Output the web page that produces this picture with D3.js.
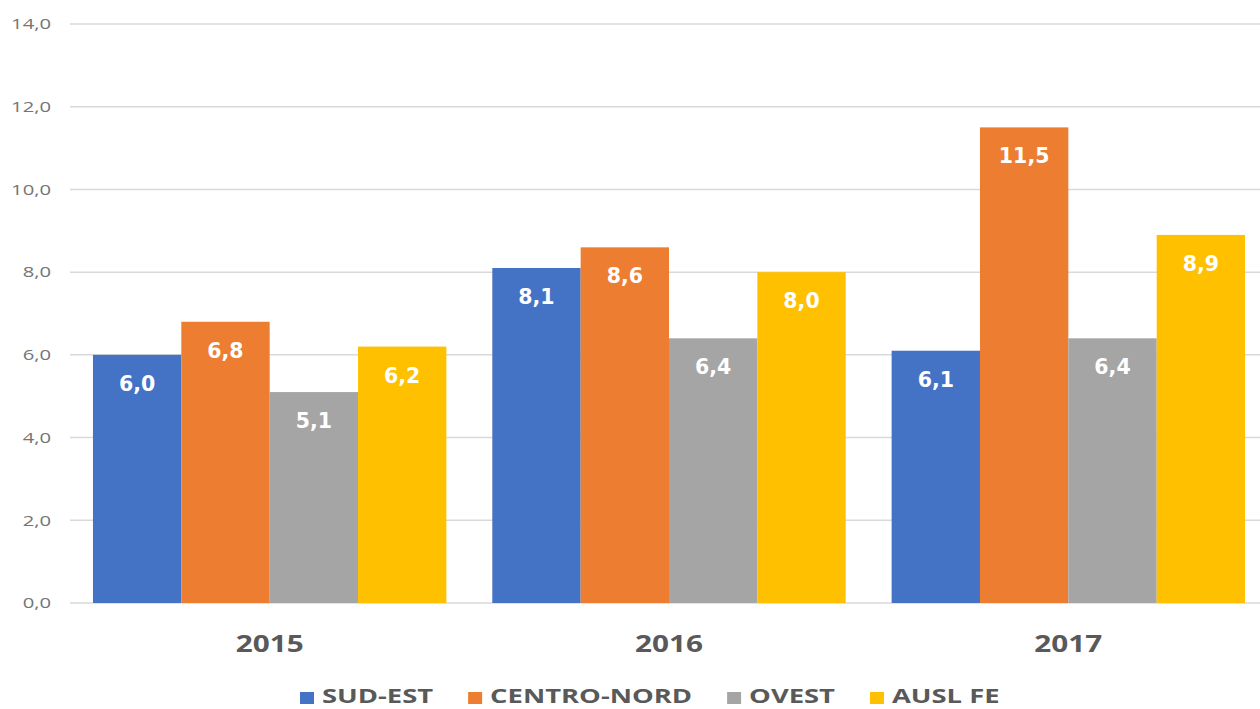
<!DOCTYPE html>
<html>
<head>
<meta charset="utf-8">
<script src="https://cdn.jsdelivr.net/npm/d3@7"></script>
<style>
  body { margin: 0; background: #fff; }
  svg { display: block; }
</style>
</head>
<body>
<div id="chart-area"></div>
<script>
var years = ["2015", "2016", "2017"];
var seriesNames = ["SUD-EST", "CENTRO-NORD", "OVEST", "AUSL FE"];
var sudEst = [6.0, 8.1, 6.1];
var centroNord = [6.8, 8.6, 11.5];
var ovest = [5.1, 6.4, 6.4];
var auslFe = [6.2, 8.0, 8.9];
var yTicks = [0, 2, 4, 6, 8, 10, 12, 14];
var colors = ["#4472C4", "#ED7D31", "#A5A5A5", "#FFC000"];

var seriesValues = [sudEst, centroNord, ovest, auslFe];
var W = 1260, H = 709;
var margin = { left: 70, right: -8, top: 24, bottom: 106 };
var width = W - margin.left - margin.right;
var height = H - margin.top - margin.bottom;
var fmt = v => v.toFixed(1).replace(".", ",");

var svg = d3.select("#chart-area").append("svg")
    .attr("width", W)
    .attr("height", H);

var g = svg.append("g")
    .attr("transform", `translate(${margin.left}, ${margin.top})`);

var x = d3.scaleBand()
    .domain(years)
    .range([0, width])
    .paddingInner(0.115)
    .paddingOuter(0.0575);

var xSub = d3.scaleBand()
    .domain(seriesNames)
    .range([0, x.bandwidth()]);

var y = d3.scaleLinear()
    .domain([0, 14])
    .range([height, 0]);

// gridlines
g.append("g")
    .selectAll("line")
    .data(yTicks)
    .join("line")
    .attr("x1", 0)
    .attr("x2", width + 20)
    .attr("y1", d => y(d))
    .attr("y2", d => y(d))
    .attr("stroke", "#D9D9D9")
    .attr("stroke-width", 1.5);

// y labels (source image is stretched horizontally, so text gets a scaleX)
g.append("g")
    .selectAll("g")
    .data(yTicks)
    .join("g")
    .attr("transform", d => `translate(-19, ${y(d)}) scale(1.35, 1)`)
    .append("text")
    .attr("dy", "0.35em")
    .attr("text-anchor", "end")
    .attr("font-family", "Open Sans, sans-serif")
    .attr("font-size", 15)
    .attr("fill", "#757575")
    .text(d => fmt(d));

var rows = [];
years.forEach((yr, i) => {
    seriesNames.forEach((s, j) => {
        rows.push({ year: yr, series: s, value: seriesValues[j][i], color: colors[j] });
    });
});

var bars = g.append("g").selectAll("g")
    .data(rows)
    .join("g")
    .attr("transform", d => `translate(${x(d.year) + xSub(d.series)}, 0)`);

bars.append("rect")
    .attr("x", 0)
    .attr("y", d => y(d.value))
    .attr("width", xSub.bandwidth())
    .attr("height", d => height - y(d.value))
    .attr("fill", d => d.color);

bars.append("text")
    .attr("x", xSub.bandwidth() / 2)
    .attr("y", d => y(d.value) + 36)
    .attr("text-anchor", "middle")
    .attr("font-family", "DejaVu Sans, sans-serif")
    .attr("font-weight", "bold")
    .attr("font-size", 20.5)
    .attr("fill", "#fff")
    .text(d => fmt(d.value));

// category labels
g.append("g")
    .selectAll("g")
    .data(years)
    .join("g")
    .attr("transform", d => `translate(${x(d) + x.bandwidth() / 2}, ${height + 49}) scale(1.24, 1)`)
    .append("text")
    .attr("text-anchor", "middle")
    .attr("font-family", "Open Sans, sans-serif")
    .attr("font-weight", "bold")
    .attr("font-size", 24)
    .attr("fill", "#595959")
    .text(d => d);

// legend
var legend = svg.append("g")
    .attr("transform", `translate(0, ${H - 6})`);

var lx = 300;
var sx = 1.37;
seriesNames.forEach((s, j) => {
    var item = legend.append("g").attr("transform", `translate(${lx}, 0)`);
    item.append("rect")
        .attr("x", 0)
        .attr("y", -11)
        .attr("width", 14)
        .attr("height", 12)
        .attr("fill", colors[j]);
    var t = item.append("g")
        .attr("transform", `translate(22, 0) scale(${sx}, 1)`)
        .append("text")
        .attr("font-family", "Open Sans, sans-serif")
        .attr("font-weight", "bold")
        .attr("font-size", 20)
        .attr("fill", "#595959")
        .text(s);
    lx += 22 + t.node().getComputedTextLength() * sx + 35;
});
</script>
</body>
</html>
